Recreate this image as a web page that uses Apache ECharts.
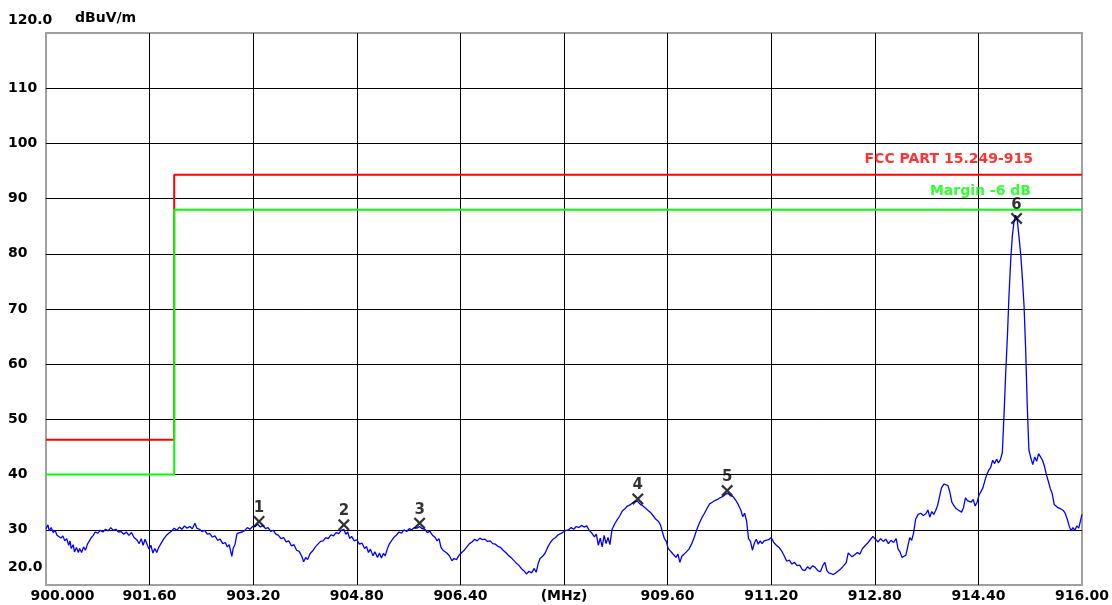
<!DOCTYPE html>
<html>
<head>
<meta charset="utf-8">
<script src="https://cdn.jsdelivr.net/npm/echarts@6/dist/echarts.min.js"></script>
<style>
html,body{margin:0;padding:0;background:#fff;}
#chart{width:1112px;height:605px;}
</style>
</head>
<body>
<div id="chart"></div>
<script>
const BASE_MHZ = 900;
const xTickLabels = ['900.000','901.60','903.20','904.80','906.40','(MHz)','909.60','911.20','912.80','914.40','916.00'];
const yTickLabels = ['20.0','30','40','50','60','70','80','90','100','110','120.0'];
const yUnit = 'dBuV/m';

const traceFreq = [
900.00,900.03,900.05,900.08,900.11,900.14,900.17,900.20,900.23,900.26,
900.29,900.32,900.35,900.37,900.39,900.42,900.44,900.47,900.50,900.52,
900.55,900.58,900.61,900.64,900.67,900.70,900.73,900.76,900.80,900.84,
900.88,900.92,900.96,901.00,901.04,901.08,901.12,901.16,901.20,901.24,
901.28,901.32,901.36,901.40,901.44,901.47,901.50,901.53,901.56,901.59,
901.62,901.65,901.68,901.71,901.74,901.78,901.82,901.86,901.90,901.94,
901.98,902.02,902.06,902.10,902.14,902.18,902.22,902.26,902.30,902.33,
902.37,902.41,902.45,902.49,902.53,902.57,902.61,902.65,902.69,902.73,
902.77,902.80,902.83,902.85,902.87,902.89,902.92,902.95,902.99,903.03,
903.07,903.11,903.15,903.19,903.23,903.27,903.31,903.35,903.39,903.43,
903.47,903.51,903.55,903.59,903.63,903.67,903.71,903.75,903.79,903.83,
903.87,903.91,903.95,903.98,904.01,904.04,904.08,904.12,904.16,904.20,
904.24,904.28,904.32,904.36,904.40,904.44,904.48,904.52,904.56,904.60,
904.63,904.66,904.69,904.72,904.76,904.80,904.84,904.88,904.92,904.95,
904.98,905.01,905.05,905.08,905.12,905.15,905.18,905.21,905.24,905.27,
905.30,905.33,905.37,905.41,905.45,905.49,905.53,905.57,905.61,905.65,
905.69,905.73,905.77,905.81,905.85,905.89,905.93,905.97,906.01,906.04,
906.07,906.10,906.13,906.16,906.19,906.23,906.27,906.30,906.34,906.38,
906.42,906.46,906.50,906.54,906.58,906.62,906.66,906.70,906.74,906.78,
906.82,906.86,906.90,906.94,906.98,907.02,907.06,907.10,907.14,907.18,
907.22,907.26,907.30,907.34,907.38,907.42,907.46,907.50,907.54,907.57,
907.60,907.63,907.67,907.71,907.75,907.79,907.83,907.87,907.91,907.95,
907.99,908.03,908.07,908.11,908.15,908.19,908.23,908.27,908.31,908.35,
908.39,908.43,908.47,908.50,908.53,908.56,908.59,908.62,908.65,908.68,
908.71,908.74,908.78,908.82,908.86,908.90,908.94,908.98,909.02,909.06,
909.10,909.14,909.18,909.22,909.26,909.30,909.34,909.38,909.42,909.46,
909.49,909.52,909.55,909.58,909.61,909.64,909.67,909.70,909.73,909.76,
909.79,909.82,909.85,909.89,909.93,909.97,910.01,910.05,910.09,910.13,
910.17,910.21,910.25,910.29,910.33,910.37,910.41,910.45,910.49,910.53,
910.57,910.61,910.65,910.69,910.73,910.76,910.79,910.82,910.85,910.88,
910.91,910.94,910.97,911.00,911.03,911.06,911.09,911.12,911.16,911.20,
911.24,911.28,911.32,911.36,911.40,911.44,911.48,911.52,911.56,911.60,
911.64,911.68,911.72,911.76,911.80,911.84,911.88,911.92,911.96,912.00,
912.03,912.06,912.09,912.12,912.16,912.20,912.24,912.28,912.32,912.36,
912.39,912.42,912.45,912.49,912.53,912.57,912.61,912.65,912.69,912.73,
912.77,912.81,912.85,912.89,912.93,912.97,913.01,913.05,913.09,913.13,
913.16,913.19,913.22,913.25,913.28,913.31,913.34,913.37,913.40,913.43,
913.47,913.51,913.55,913.59,913.62,913.65,913.68,913.71,913.74,913.77,
913.80,913.83,913.87,913.90,913.93,913.96,913.99,914.02,914.06,914.10,
914.14,914.17,914.20,914.23,914.26,914.29,914.32,914.35,914.38,914.41,
914.44,914.47,914.50,914.53,914.56,914.59,914.62,914.65,914.68,914.71,
914.74,914.77,914.80,914.82,914.85,914.87,914.90,914.925,914.95,914.975,
915.00,915.03,915.055,915.08,915.105,915.13,915.155,915.18,915.21,915.24,
915.27,915.30,915.33,915.36,915.39,915.42,915.45,915.48,915.51,915.54,
915.57,915.60,915.63,915.67,915.71,915.74,915.77,915.80,915.83,915.86,
915.89,915.92,915.95,915.98,916.00
];
const traceLevel = [
30.2,30.9,29.8,30.4,29.5,29.9,29.0,29.3,28.5,28.9,
28.0,28.4,27.2,28.0,26.6,27.3,26.0,26.8,25.9,26.6,
25.9,26.9,26.3,27.4,28.0,28.6,29.0,29.6,29.4,29.9,
29.6,30.1,29.8,30.4,29.9,30.1,29.6,29.7,29.2,29.6,
29.0,29.5,28.6,28.2,27.5,28.4,27.2,28.3,27.4,26.5,
27.2,25.8,26.6,25.9,26.8,27.6,28.4,29.0,29.4,29.8,
30.3,29.9,30.5,30.1,30.7,30.3,30.6,30.2,31.2,30.3,
30.1,29.7,29.9,29.2,29.3,28.7,28.9,28.1,28.3,27.5,
27.7,26.9,27.3,26.2,25.2,26.6,27.4,29.3,29.5,29.6,
29.9,30.4,30.1,30.6,30.6,31.0,30.5,30.8,30.2,30.4,
29.7,29.9,29.2,29.0,28.4,28.6,27.8,28.0,27.1,27.3,
26.3,26.1,25.2,24.2,25.0,24.6,25.7,26.2,26.9,27.4,
27.9,28.0,28.6,28.4,29.1,28.9,29.5,29.3,29.9,30.1,
29.2,29.6,28.4,28.8,28.0,28.2,27.4,27.6,26.6,27.0,
25.9,26.5,25.3,26.0,25.0,25.8,24.9,25.7,25.3,26.5,
27.4,27.9,28.6,29.0,29.6,29.4,30.0,29.7,30.2,30.0,
30.4,30.3,30.6,30.2,30.1,29.5,29.7,29.0,28.6,28.0,
28.4,26.8,26.3,26.6,25.8,25.3,24.4,24.8,24.6,25.4,
25.9,26.3,26.9,27.5,27.8,28.3,28.0,28.5,28.2,28.3,
27.9,28.0,27.5,27.4,27.0,26.8,26.3,25.9,25.4,25.0,
24.5,24.0,23.6,23.0,22.6,22.0,22.5,22.2,23.0,22.3,
23.8,24.8,25.2,25.8,26.9,27.7,28.3,28.6,29.1,29.3,
29.6,29.9,30.0,30.4,30.1,30.6,30.4,30.8,30.5,30.7,
29.9,29.4,28.7,29.2,27.2,28.5,26.9,29.0,27.5,28.6,
27.3,30.0,31.0,31.8,32.5,33.4,33.8,34.3,34.5,34.9,
35.2,35.1,34.6,34.3,33.9,33.5,33.1,32.5,31.9,31.5,
30.9,29.6,28.4,27.9,26.6,26.9,25.8,26.0,25.0,25.6,
24.1,25.2,25.4,26.0,26.5,27.4,28.6,30.0,31.2,32.2,
33.0,33.9,34.7,35.0,35.3,35.5,35.8,36.0,36.4,36.6,
36.2,36.0,35.4,34.6,33.6,32.4,33.0,31.6,28.4,27.9,
26.3,27.6,28.3,27.4,28.0,27.5,28.0,27.7,28.2,28.6,
27.7,27.2,26.8,26.2,25.3,24.3,24.5,23.8,24.1,23.5,
23.6,22.8,22.6,23.3,22.9,23.5,23.2,22.6,22.4,23.6,
24.1,22.6,22.2,22.4,21.9,22.2,22.6,23.0,23.5,24.1,
25.8,26.0,25.1,25.5,25.9,25.6,26.6,27.1,27.6,28.2,
28.8,28.3,27.8,28.4,27.9,28.3,27.5,28.1,27.7,28.4,
26.5,26.0,25.0,24.8,25.4,27.0,28.6,28.1,29.5,31.9,
32.8,33.0,32.6,32.9,33.6,32.3,33.3,32.8,33.5,34.4,
36.0,37.6,38.3,38.5,38.0,36.8,35.0,34.4,33.8,33.5,
33.2,34.0,35.8,35.3,35.6,35.0,35.5,34.3,35.0,36.3,
36.6,37.6,38.9,40.0,40.8,41.3,42.6,42.0,42.8,42.1,
42.7,44.0,52.0,57.9,65.5,71.8,79.0,83.3,85.8,87.0,
86.2,82.7,79.7,75.5,70.6,62.7,52.4,44.5,43.0,41.8,
43.2,42.4,43.8,43.5,42.6,41.5,40.0,38.8,37.5,36.6,
34.6,34.4,34.0,33.8,33.5,33.0,32.0,30.8,29.8,30.4,
29.9,30.7,30.3,31.8,32.8
];

const limitFreq = [900, 901.98, 901.98, 916];
const limitLevel = [46.3, 46.3, 94.3, 94.3];
const marginLevel = [40.0, 40.0, 88.0, 88.0];
const limitName = 'FCC PART 15.249-915';
const marginName = 'Margin -6 dB';

const markerFreq = [903.29, 904.60, 905.77, 909.14, 910.52, 914.99];
const markerLevel = [31.5, 30.9, 31.2, 35.6, 37.1, 86.4];
const markerNames = ['1','2','3','4','5','6'];

const FONT = 'DejaVu Sans';
const toXY = (fs, ls) => fs.map((f, i) => [f - BASE_MHZ, ls[i]]);
const xPath = 'path://M0,1.6 L1.6,0 L6,4.4 L10.4,0 L12,1.6 L7.6,6 L12,10.4 L10.4,12 L6,7.6 L1.6,12 L0,10.4 L4.4,6 Z';

const chart = echarts.init(document.getElementById('chart'));
chart.setOption({
  animation: false,
  backgroundColor: '#fff',
  grid: {left: 46, top: 33, right: 29, bottom: 20, show: true, borderColor: '#a0a0a0', borderWidth: 2},
  xAxis: {
    type: 'value', min: 0, max: 16, interval: 1.6,
    axisLine: {show: false}, axisTick: {show: false},
    splitLine: {show: true, showMinLine: false, showMaxLine: false, lineStyle: {color: '#000', width: 1}},
    axisLabel: {
      margin: 4, color: '#000', fontFamily: FONT, fontWeight: 'bold', fontSize: 14,
      formatter: function (v) {
        const i = Math.round(v / 1.6);
        return i === 0 ? '{f|' + xTickLabels[0] + '}' : xTickLabels[i];
      },
      rich: {f: {padding: [0, 0, 0, 33], color: '#000', fontFamily: FONT, fontWeight: 'bold', fontSize: 14}}
    }
  },
  yAxis: {
    type: 'value', min: 20, max: 120, interval: 10,
    name: yUnit, nameLocation: 'end', nameGap: 8,
    nameTextStyle: {align: 'left', padding: [0, 0, 0, 29], color: '#000', fontFamily: FONT, fontWeight: 'bold', fontSize: 14},
    axisLine: {show: false}, axisTick: {show: false},
    splitLine: {show: true, showMinLine: false, showMaxLine: false, lineStyle: {color: '#000', width: 1}},
    axisLabel: {
      margin: 38, align: 'left', color: '#000', fontFamily: FONT, fontWeight: 'bold', fontSize: 14,
      formatter: function (v) {
        const i = Math.round((v - 20) / 10);
        if (i === 0) return '{b|' + yTickLabels[0] + '}';
        if (i === yTickLabels.length - 1) return '{t|' + yTickLabels[i] + '}';
        return yTickLabels[i];
      },
      rich: {
        b: {padding: [0, 0, 35, 0], color: '#000', fontFamily: FONT, fontWeight: 'bold', fontSize: 14},
        t: {padding: [0, 0, 26, 0], color: '#000', fontFamily: FONT, fontWeight: 'bold', fontSize: 14}
      }
    }
  },
  series: [
    {type: 'line', data: toXY(traceFreq, traceLevel), symbol: 'none', lineStyle: {color: '#0000ff', width: 1.3}, z: 3},
    {type: 'line', data: toXY(limitFreq, limitLevel), symbol: 'none', lineStyle: {color: '#ff0000', width: 2}, z: 4},
    {type: 'line', data: toXY(limitFreq, marginLevel), symbol: 'none', lineStyle: {color: '#00ff00', width: 2}, z: 5},
    {type: 'scatter', symbolSize: 2, itemStyle: {color: 'rgba(0,0,0,0)'}, z: 6,
      data: [
        {value: [limitFreq[3] - BASE_MHZ, limitLevel[3]], label: {show: true, formatter: limitName, position: 'left', offset: [-43, -16], color: '#ff0000', fontFamily: FONT, fontWeight: 'bold', fontSize: 14}},
        {value: [limitFreq[3] - BASE_MHZ, marginLevel[3]], label: {show: true, formatter: marginName, position: 'left', offset: [-45, -18], color: '#00ff00', fontFamily: FONT, fontWeight: 'bold', fontSize: 14}}
      ]
    },
    {type: 'scatter', symbol: xPath, symbolSize: 12, itemStyle: {color: '#000'}, z: 7,
      data: toXY(markerFreq, markerLevel),
      label: {show: true, position: 'top', distance: 0, color: '#000', fontFamily: FONT, fontWeight: 'bold', fontSize: 15,
        formatter: p => markerNames[p.dataIndex]}
    }
  ]
});
</script>
</body>
</html>
